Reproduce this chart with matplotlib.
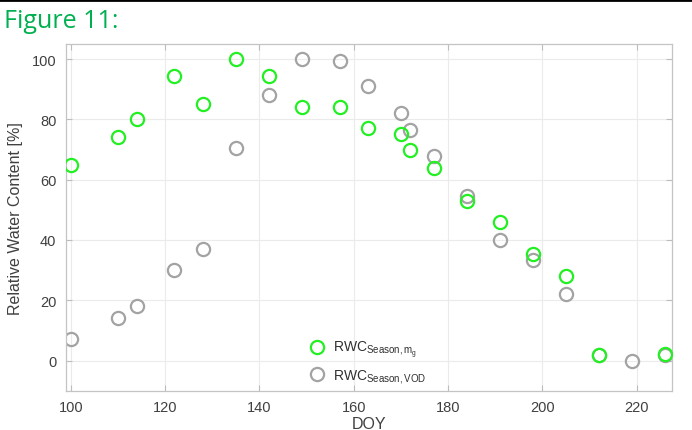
import numpy as np
import matplotlib
matplotlib.use('Agg')
import matplotlib.pyplot as plt
from matplotlib.lines import Line2D

# day of year and relative water content [%]
doy_mg = [100, 110, 114, 122, 128, 135, 142, 149, 157, 163, 170, 172, 177, 184, 191, 198, 205, 212, 226]
rwc_mg = [65, 74, 80, 94.5, 85, 100, 94.5, 84, 84, 77, 75, 70, 64, 53, 46, 35.5, 28, 2, 2.2]

doy_vod = [100, 110, 114, 122, 128, 135, 142, 149, 157, 163, 170, 172, 177, 184, 191, 198, 205, 212, 219, 226]
rwc_vod = [7, 14, 18, 30, 37, 70.5, 88, 100, 99.5, 91, 82, 76.5, 68, 54.5, 40, 33.5, 22, 1.7, 0, 1.9]

xticks = [100, 120, 140, 160, 180, 200, 220]
yticks = [0, 20, 40, 60, 80, 100]

plt.rcParams['font.family'] = ['Liberation Sans', 'DejaVu Sans']
plt.rcParams['mathtext.fontset'] = 'custom'
plt.rcParams['mathtext.rm'] = 'Liberation Sans'
plt.rcParams['mathtext.it'] = 'Liberation Sans:italic'

fig = plt.figure(figsize=(6.92, 4.31), dpi=100)
ax = fig.add_axes([0.0954, 0.0912, 0.8756, 0.8044])

ax.plot(doy_mg, rwc_mg, 'o', mfc='none', mec='#22f022', mew=1.6, ms=9.5,
        label=r'RWC$_{\mathrm{Season,m_g}}$', zorder=3)
ax.plot(doy_vod, rwc_vod, 'o', mfc='none', mec='#a3a3a3', mew=1.6, ms=9.5,
        label=r'RWC$_{\mathrm{Season,VOD}}$', zorder=2)

ax.set_xlim(99.0, 227.5)
ax.set_ylim(-10, 105)
ax.set_xticks(xticks)
ax.set_yticks(yticks)
ax.tick_params(direction='in', top=True, right=True, length=4, width=0.8,
               color='#bdbdbd', labelcolor='#404040', labelsize=10.5, pad=7)
ax.grid(color='#ebebeb', linewidth=0.8)
ax.set_axisbelow(True)
for s in ax.spines.values():
    s.set_color('#c4c4c4')
    s.set_linewidth(0.9)

ax.set_xlabel('DOY', fontsize=11.5, color='#404040', labelpad=1)
ax.set_ylabel('Relative Water Content [%]', fontsize=11.5, color='#404040', labelpad=6)

ax.legend(loc='lower left', bbox_to_anchor=(0.37, -0.02), frameon=False,
          fontsize=10, handletextpad=0.2, labelspacing=0.55, labelcolor='#303030')

fig.text(0.006, 0.935, 'Figure 11:', color='#00b050', fontsize=18,
         family='Open Sans', ha='left', va='baseline')
fig.add_artist(Line2D([0, 1], [0.997, 0.997], transform=fig.transFigure,
                      color='black', linewidth=2))

fig.savefig('out.png', dpi=100)
